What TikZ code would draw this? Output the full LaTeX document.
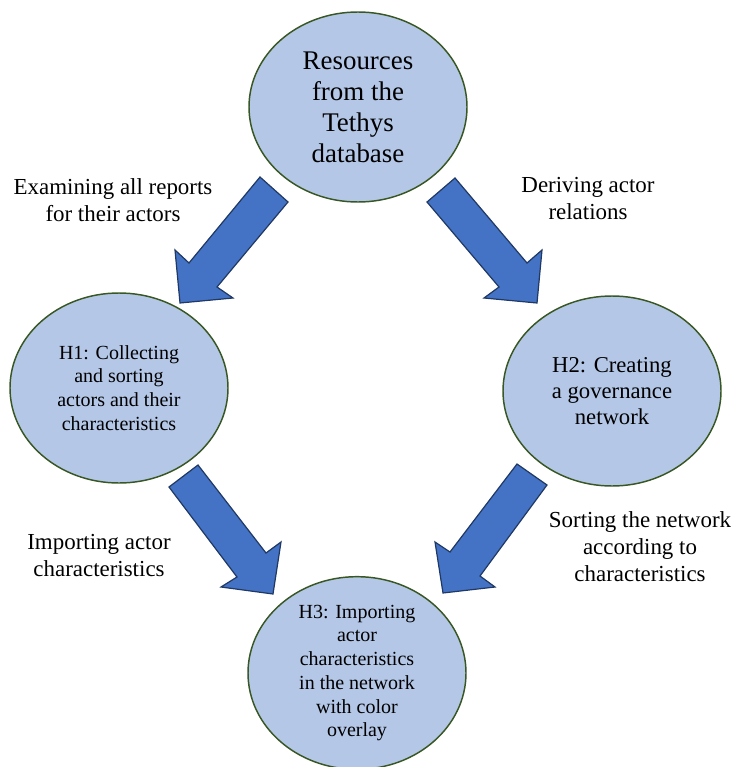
\documentclass[tikz,border=0pt]{standalone}
\usepackage{fontspec}
\setmainfont{Liberation Serif}
\usetikzlibrary{shapes.geometric}
\definecolor{circfill}{HTML}{B4C7E7}
\definecolor{circline}{HTML}{385723}
\definecolor{arrfill}{HTML}{4472C4}
\definecolor{arrline}{HTML}{1F3864}
\begin{document}
\begin{tikzpicture}[x=0.75pt,y=-0.75pt,
  stage/.style={ellipse, draw=circline, line width=1.1pt, fill=circfill,
    minimum width=163.5pt, minimum height=142.5pt, inner sep=0pt, align=center,
    font=\fontsize{15}{17.8}\selectfont},
  blockarrow/.style={draw=arrline, fill=arrfill, line width=0.9pt, line join=miter},
  lbl/.style={align=center, inner sep=0pt, font=\fontsize{17.2}{20.25}\selectfont}]
\useasboundingbox (0,0) rectangle (734,767);

% stages
\node[stage, font=\fontsize{20.2}{23.25}\selectfont] (res) at (358,107)
  {Resources\\from the\\Tethys\\database};
\node[stage] (h1) at (119,388)
  {H1: Collecting\\and sorting\\actors and their\\characteristics};
\node[stage, font=\fontsize{17}{19.5}\selectfont] (h2) at (612,391)
  {H2: Creating\\a governance\\network};
\node[stage] (h3) at (357,673)
  {H3: Importing\\actor\\characteristics\\in the network\\with color\\overlay};

% block arrows
\draw[blockarrow] (260,177) -- (288,202) -- (217,287) -- (233,298) -- (180,303)
  -- (175,250) -- (189,263) -- cycle;
\draw[blockarrow] (455,178) -- (427,202) -- (499,287) -- (484,298) -- (537,303)
  -- (542,250) -- (527,263) -- cycle;
\draw[blockarrow] (198,465) -- (169,487) -- (237,577) -- (221,587) -- (273,594)
  -- (281,542) -- (266,553) -- cycle;
\draw[blockarrow] (517,464) -- (547,485) -- (480,576) -- (495,587) -- (443,593)
  -- (435,542) -- (450,552) -- cycle;

% labels
\node[lbl] (l1) at (113,200) {Examining all reports\\for their actors};
\node[lbl] (l2) at (588,199) {Deriving actor\\relations};
\node[lbl] (l3) at (99,556) {Importing actor\\characteristics};
\node[lbl] (l4) at (640,547) {Sorting the network\\according to\\characteristics};
\end{tikzpicture}
\end{document}
